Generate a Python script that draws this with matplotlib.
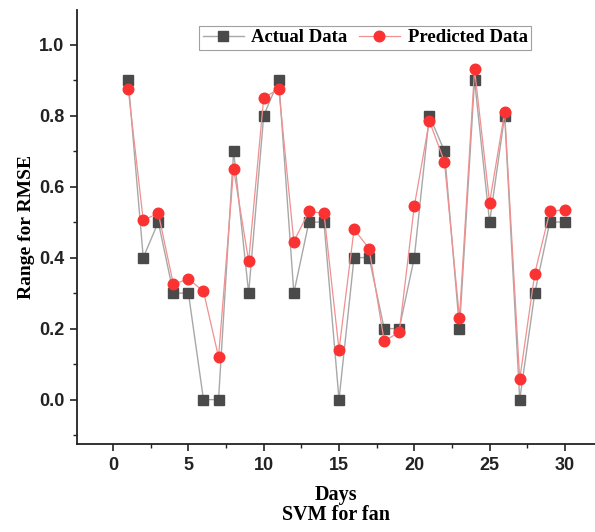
import matplotlib
matplotlib.use("Agg")
import matplotlib.pyplot as plt
from matplotlib.ticker import MultipleLocator

days = list(range(1, 31))
actual = [0.9, 0.4, 0.5, 0.3, 0.3, 0.0, 0.0, 0.7, 0.3, 0.8,
          0.9, 0.3, 0.5, 0.5, 0.0, 0.4, 0.4, 0.2, 0.2, 0.4,
          0.8, 0.7, 0.2, 0.9, 0.5, 0.8, 0.0, 0.3, 0.5, 0.5]
predicted = [0.875, 0.505, 0.525, 0.325, 0.34, 0.305, 0.12, 0.65, 0.39, 0.85,
             0.875, 0.445, 0.53, 0.525, 0.14, 0.48, 0.425, 0.165, 0.19, 0.545,
             0.785, 0.67, 0.23, 0.93, 0.555, 0.81, 0.057, 0.355, 0.53, 0.535]
xticks = [0, 5, 10, 15, 20, 25, 30]
yticks = [0.0, 0.2, 0.4, 0.6, 0.8, 1.0]

fig = plt.figure(figsize=(5.95, 5.32), dpi=100)
ax = fig.add_axes([0.1294, 0.1654, 0.8706, 0.8156])

ax.plot(days, actual, color="#a8a8a8", lw=1.0, marker="s", ms=6.8,
        mfc="#4a4a4a", mec="#4a4a4a", label="Actual Data", zorder=2)
ax.plot(days, predicted, color="#f09090", lw=0.9, marker="o", ms=7.6,
        mfc="#fa3232", mec="#fa3232", label="Predicted Data", zorder=3)

ax.set_xlim(-2.4, 32)
ax.set_ylim(-0.125, 1.097)
ax.set_xticks(xticks)
ax.set_yticks(yticks)
ax.set_xticklabels([str(t) for t in xticks])
ax.set_yticklabels([f"{t:.1f}" for t in yticks])
ax.xaxis.set_minor_locator(MultipleLocator(2.5))
ax.yaxis.set_minor_locator(MultipleLocator(0.1))
ax.tick_params(which="major", direction="out", length=5, width=1.2, colors="#222222", pad=4)
ax.tick_params(which="minor", direction="out", length=3, width=1.0, colors="#222222")
for lab in ax.get_xticklabels() + ax.get_yticklabels():
    lab.set_fontfamily("Liberation Sans")
    lab.set_fontweight("bold")
    lab.set_fontsize(13)
    lab.set_color("#222222")

for s in ["top", "right"]:
    ax.spines[s].set_visible(False)
for s in ["left", "bottom"]:
    ax.spines[s].set_linewidth(1.3)
    ax.spines[s].set_color("#222222")

ax.set_xlabel("Days\nSVM for fan", fontfamily="Liberation Serif", fontweight="bold",
              fontsize=14.5, labelpad=8, linespacing=1.05)
ax.set_ylabel("Range for RMSE", fontfamily="Liberation Serif", fontweight="bold",
              fontsize=14, labelpad=3)

leg = ax.legend(loc="upper center", bbox_to_anchor=(0.556, 0.973), ncol=2,
                prop={"family": "Liberation Serif", "weight": "bold", "size": 13.5},
                frameon=True, fancybox=False, edgecolor="#888888",
                handlelength=2.2, columnspacing=0.6, handletextpad=0.4,
                borderpad=0.2, borderaxespad=0.2)
leg.get_frame().set_linewidth(0.8)

fig.savefig("out.png", dpi=100)
